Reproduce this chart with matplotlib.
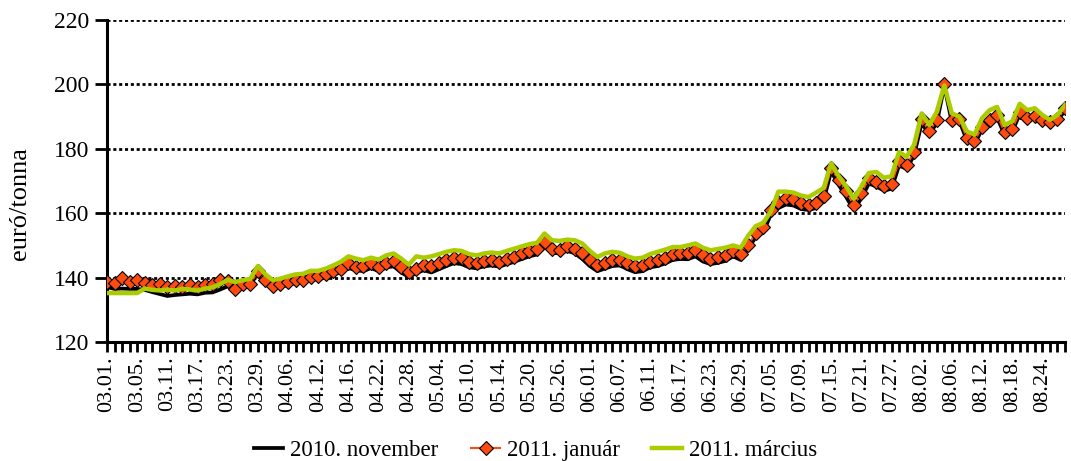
import matplotlib.pyplot as plt
import pandas as pd

plt.rcParams['font.family'] = ['Liberation Serif', 'DejaVu Serif']

# Trading days (2010), Easter holidays skipped
holidays = ['2010-04-02', '2010-04-05']
dates = pd.bdate_range('2010-03-01', '2010-08-27')
dates = dates[~dates.isin(pd.to_datetime(holidays))]
date_labels = [d.strftime('%m.%d.') for d in dates]

nov_2010 = [
    137.0, 136.5, 136.6, 136.5, 136.5, 136.2, 135.5, 134.9, 134.3, 134.6,
    134.8, 135.0, 134.8, 135.3, 135.4, 136.3, 137.3, 136.2, 136.8, 137.4,
    141.8, 138.0, 136.6, 137.0, 137.8, 138.3, 138.5, 139.2, 139.5, 140.0,
    141.0, 141.6, 143.0, 142.3, 142.0, 143.0, 142.0, 143.2, 143.5, 141.6,
    140.2, 141.4, 142.3, 141.6, 142.6, 143.6, 144.5, 144.2, 143.2, 142.9,
    143.5, 143.8, 143.4, 144.2, 144.9, 145.8, 146.6, 147.2, 149.8, 147.6,
    147.6, 148.3, 147.6, 145.8, 143.6, 142.0, 142.8, 143.6, 143.8, 142.6,
    141.7, 142.0, 143.2, 143.6, 144.4, 145.5, 145.8, 145.7, 146.6, 145.0,
    144.2, 144.6, 145.2, 146.6, 145.5, 149.0, 152.6, 154.0, 159.6, 161.6,
    162.7, 162.4, 161.3, 161.0, 161.6, 164.0, 173.0, 168.8, 165.0, 161.0,
    164.6, 169.2, 168.3, 167.0, 167.6, 174.8, 173.8, 178.0, 188.0, 184.5,
    188.0, 199.5, 188.2, 188.6, 182.6, 181.5, 186.0, 188.2, 189.7, 184.3,
    185.4, 190.7, 188.8, 189.5, 188.2, 187.5, 188.6, 192.0,
]

jan_2011 = [
    138.6, 138.3, 140.0, 138.6, 139.4, 138.3, 137.6, 137.9, 137.1, 137.5,
    137.1, 137.8, 137.1, 137.6, 138.1, 139.2, 139.0, 136.6, 137.9, 138.1,
    142.0, 139.2, 137.3, 137.9, 138.7, 139.2, 139.4, 140.2, 140.4, 141.0,
    142.1, 142.8, 144.6, 143.3, 143.5, 144.4, 143.3, 144.6, 145.1, 143.3,
    141.8, 142.8, 143.8, 143.5, 144.4, 145.4, 146.2, 146.2, 144.9, 144.4,
    145.2, 145.6, 144.9, 145.9, 146.4, 147.5, 148.3, 149.0, 151.1, 149.0,
    148.7, 149.7, 149.0, 147.5, 145.6, 143.8, 144.6, 145.4, 145.6, 144.4,
    143.5, 143.8, 144.9, 145.4, 146.2, 147.3, 147.7, 147.5, 148.5, 146.9,
    145.9, 146.4, 146.9, 148.3, 147.3, 150.0, 154.0, 155.8, 161.0, 163.6,
    164.7, 164.4, 163.1, 162.6, 163.1, 165.5, 174.0, 170.4, 166.8, 162.6,
    166.3, 170.9, 169.8, 168.6, 169.1, 176.2, 175.0, 179.0, 189.2, 185.4,
    189.0, 200.2, 189.0, 189.2, 183.4, 182.3, 186.9, 189.0, 190.5, 185.1,
    186.1, 191.5, 189.5, 190.2, 189.0, 188.2, 189.2, 192.6,
]

mar_2011 = [
    135.2, 135.2, 135.2, 135.2, 135.2, 136.6, 136.2, 136.0, 136.3, 136.0,
    136.5, 136.3, 136.0, 136.6, 137.0, 138.0, 139.3, 138.6, 139.2, 139.6,
    143.6, 141.0, 139.2, 139.7, 140.4, 141.0, 141.2, 142.1, 142.1, 142.8,
    143.8, 144.9, 146.6, 145.9, 145.4, 146.2, 145.6, 146.9, 147.5, 145.9,
    144.0, 146.6, 146.2, 146.6, 147.3, 148.0, 148.5, 148.3, 147.3, 146.9,
    147.5, 147.8, 147.5, 148.3, 149.0, 149.7, 150.4, 150.8, 153.7, 151.6,
    151.4, 151.8, 151.6, 150.6, 148.3, 146.4, 147.5, 148.0, 147.7, 146.6,
    145.9, 146.2, 147.3, 148.0, 148.7, 149.5, 149.5, 150.0, 150.6, 149.3,
    148.5, 148.9, 149.3, 150.0, 149.3, 153.0, 156.0, 157.0, 160.5, 166.7,
    166.7, 166.4, 165.5, 165.0, 166.4, 167.8, 175.5, 171.5, 168.3, 164.5,
    168.3, 172.5, 172.8, 171.0, 171.5, 179.0, 177.5, 181.3, 191.0, 187.4,
    191.5, 199.7, 191.0, 190.0, 185.4, 184.4, 189.5, 192.0, 193.0, 187.4,
    188.5, 194.0, 192.0, 192.6, 190.5, 189.0, 190.5, 193.6,
]

x = range(len(dates))

fig = plt.figure(figsize=(10.71, 4.61), dpi=100)
ax = fig.add_axes([0.0999, 0.2581, 0.8945, 0.6985])

ax.plot(x, nov_2010, color='black', linewidth=2.7, label='2010. november', zorder=3)
ax.plot(x, jan_2011, color='#FF4A10', linewidth=1.5, marker='D', markersize=7.5,
        markeredgecolor='black', markeredgewidth=0.8, label='2011. január', zorder=4)
ax.plot(x, mar_2011, color='#AACC00', linewidth=3.2, label='2011. március', zorder=5)

# Axes
ax.set_xlim(0, len(dates) - 1)
ax.set_ylim(120, 220)
ax.set_yticks(range(120, 221, 20))
ax.set_xticks(list(x))
ax.set_xticklabels([lab if i % 4 == 0 else '' for i, lab in enumerate(date_labels)],
                   rotation=90)
ax.tick_params(axis='x', labelsize=16, direction='out', width=2, length=7,
               color='black')
ax.tick_params(axis='y', labelsize=17, direction='out', width=2, length=9,
               color='black')

for side in ['top', 'right']:
    ax.spines[side].set_visible(False)
for side in ['left', 'bottom']:
    ax.spines[side].set_linewidth(2.2)

for yv in range(140, 221, 20):
    ax.axhline(yv, color='black', linewidth=2, linestyle=(0, (1.1, 1.0)), zorder=1)

ax.set_ylabel('euró/tonna', fontsize=19)
ax.yaxis.set_label_coords(-0.079, 0.43)

fig.legend(loc='lower center', bbox_to_anchor=(0.5, -0.045), ncol=3, frameon=False,
           fontsize=16.5, handlelength=1.3, handletextpad=0.3, columnspacing=1.4)

fig.savefig('out.png', dpi=100)
